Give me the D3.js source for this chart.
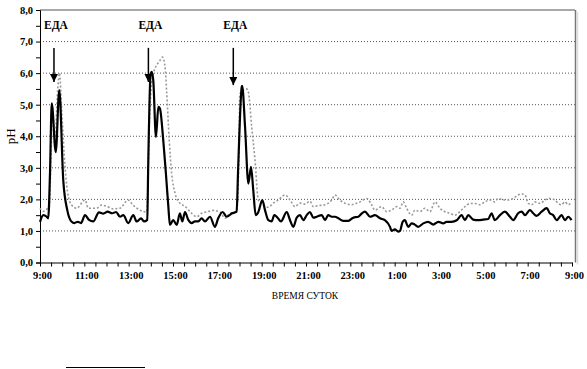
<!DOCTYPE html>
<html>
<head>
<meta charset="utf-8">
<script src="https://cdnjs.cloudflare.com/ajax/libs/d3/7.8.5/d3.min.js"></script>
<style>
    body { margin: 0; background: #fff; }
    svg text { font-family: "Liberation Serif", "Times New Roman", "DejaVu Serif", serif !important; fill: #000; }
</style>
</head>
<body>
<svg id="chartSvg" width="587" height="369"></svg>
<script>
// hours after 9:00, pH
const solidHours = [0.00, 0.15, 0.30, 0.37, 0.45, 0.53, 0.71, 0.87, 1.05, 1.23, 1.43, 1.55, 1.70, 1.85, 2.03, 2.21, 2.40, 2.66, 2.86, 3.05, 3.26, 3.43, 3.61, 3.76, 3.98, 4.21, 4.36, 4.56, 4.69, 4.84, 4.88, 4.99, 5.04, 5.11, 5.23, 5.34, 5.41, 5.56, 5.68, 5.79, 5.86, 6.01, 6.17, 6.31, 6.42, 6.54, 6.69, 6.84, 6.99, 7.14, 7.29, 7.44, 7.67, 7.89, 8.04, 8.24, 8.42, 8.65, 8.87, 8.94, 9.10, 9.12, 9.25, 9.40, 9.52, 9.62, 9.73, 9.85, 10.03, 10.15, 10.30, 10.45, 10.57, 10.72, 10.87, 11.13, 11.28, 11.43, 11.58, 11.73, 11.88, 12.03, 12.18, 12.33, 12.48, 12.71, 12.86, 13.00, 13.16, 13.31, 13.46, 13.68, 13.91, 14.13, 14.36, 14.51, 14.66, 14.89, 15.11, 15.34, 15.56, 15.79, 15.86, 16.01, 16.16, 16.24, 16.36, 16.46, 16.61, 16.77, 16.91, 17.06, 17.29, 17.51, 17.74, 17.97, 18.19, 18.34, 18.57, 18.80, 19.02, 19.17, 19.32, 19.54, 19.77, 20.00, 20.22, 20.37, 20.52, 20.75, 20.97, 21.20, 21.35, 21.57, 21.73, 21.88, 22.10, 22.25, 22.40, 22.63, 22.86, 23.00, 23.15, 23.31, 23.53, 23.68, 23.83, 23.98];
const solidPh = [1.29, 1.50, 1.45, 1.40, 2.80, 5.04, 3.50, 5.46, 2.60, 1.66, 1.29, 1.25, 1.29, 1.25, 1.50, 1.35, 1.30, 1.59, 1.55, 1.61, 1.56, 1.60, 1.45, 1.50, 1.25, 1.50, 1.30, 1.40, 1.30, 1.35, 3.00, 5.98, 6.04, 5.77, 3.98, 4.93, 4.88, 3.88, 2.82, 1.77, 1.19, 1.34, 1.19, 1.56, 1.30, 1.60, 1.35, 1.25, 1.30, 1.30, 1.40, 1.30, 1.45, 1.13, 1.40, 1.60, 1.45, 1.55, 1.61, 3.00, 5.56, 5.60, 4.30, 2.50, 3.03, 2.30, 1.50, 1.60, 1.98, 1.66, 1.34, 1.30, 1.50, 1.42, 1.30, 1.60, 1.34, 1.13, 1.42, 1.50, 1.34, 1.50, 1.60, 1.42, 1.45, 1.50, 1.34, 1.50, 1.45, 1.45, 1.40, 1.32, 1.32, 1.42, 1.45, 1.55, 1.61, 1.45, 1.50, 1.40, 1.34, 1.13, 1.00, 1.05, 0.98, 1.00, 1.29, 1.34, 1.13, 1.24, 1.20, 1.13, 1.24, 1.29, 1.20, 1.29, 1.24, 1.29, 1.29, 1.34, 1.50, 1.34, 1.50, 1.36, 1.34, 1.36, 1.38, 1.56, 1.34, 1.50, 1.61, 1.45, 1.34, 1.56, 1.61, 1.50, 1.66, 1.56, 1.48, 1.61, 1.72, 1.56, 1.50, 1.34, 1.50, 1.34, 1.45, 1.34];

const dottedHours = [0.00, 0.15, 0.32, 0.42, 0.50, 0.56, 0.68, 0.80, 0.88, 0.98, 1.13, 1.28, 1.43, 1.65, 2.03, 2.18, 2.55, 2.78, 3.01, 3.29, 3.61, 3.97, 4.20, 4.51, 4.81, 4.96, 5.11, 5.41, 5.52, 5.64, 5.71, 5.83, 5.94, 6.09, 6.31, 6.54, 6.84, 7.07, 7.29, 7.52, 7.82, 8.12, 8.35, 8.57, 8.80, 8.87, 8.96, 9.02, 9.32, 9.40, 9.55, 9.70, 9.85, 10.00, 10.15, 10.30, 10.52, 10.75, 11.05, 11.28, 11.50, 11.73, 11.95, 12.18, 12.33, 12.55, 12.86, 13.16, 13.31, 13.53, 13.76, 14.06, 14.28, 14.43, 14.74, 14.96, 15.11, 15.41, 15.64, 15.86, 16.09, 16.24, 16.39, 16.54, 16.77, 16.91, 17.14, 17.36, 17.59, 17.82, 18.04, 18.27, 18.49, 18.72, 18.94, 19.17, 19.40, 19.62, 19.85, 20.07, 20.30, 20.52, 20.67, 20.90, 21.13, 21.35, 21.57, 21.73, 21.88, 22.03, 22.18, 22.33, 22.56, 22.78, 23.00, 23.23, 23.38, 23.53, 23.68, 23.83, 23.98];
const dottedPh = [1.72, 1.62, 1.70, 1.75, 3.50, 4.90, 4.00, 5.50, 6.00, 4.80, 3.03, 2.08, 1.82, 1.72, 1.98, 1.72, 1.72, 1.82, 1.78, 1.70, 1.72, 1.98, 1.82, 1.66, 1.60, 4.90, 5.98, 6.40, 6.51, 6.20, 5.46, 3.88, 2.82, 2.20, 1.88, 1.78, 1.56, 1.45, 1.56, 1.60, 1.65, 1.60, 1.40, 1.56, 1.60, 1.62, 3.00, 5.35, 5.50, 5.40, 4.30, 3.24, 1.98, 1.90, 1.77, 1.75, 1.88, 1.98, 2.14, 1.98, 1.77, 1.88, 1.85, 1.94, 1.77, 1.80, 1.83, 1.98, 2.14, 1.98, 1.88, 1.83, 1.88, 1.92, 2.03, 1.83, 1.66, 1.77, 1.61, 1.66, 1.77, 1.72, 1.92, 1.72, 1.50, 1.66, 1.61, 1.72, 1.61, 1.92, 1.72, 1.61, 1.56, 1.50, 1.61, 1.77, 1.87, 1.87, 1.83, 1.92, 1.98, 1.92, 2.03, 1.98, 1.98, 2.03, 2.14, 2.17, 2.14, 1.87, 1.83, 1.92, 1.87, 1.98, 2.03, 1.98, 1.87, 1.83, 1.92, 1.83, 1.92];

const mealHours = [0.63, 4.89, 8.72];
const mealLabel = "ЕДА";
const yTickValues = [0, 1, 2, 3, 4, 5, 6, 7, 8];
const xTickLabels = ["9:00", "11:00", "13:00", "15:00", "17:00", "19:00", "21:00", "23:00", "1:00", "3:00", "5:00", "7:00", "9:00"];

const svg = d3.select("#chartSvg");
const plotLeft = 40, plotRight = 572, plotTop = 10, plotBottom = 262.5;

const x = d3.scaleLinear().domain([0, 24]).range([plotLeft, plotRight]);
const y = d3.scaleLinear().domain([0, 8]).range([plotBottom, plotTop]);

// gridlines
svg.append("g")
    .selectAll("line")
    .data(yTickValues.filter(d => d > 0 && d < 8))
    .join("line")
    .attr("x1", plotLeft)
    .attr("x2", 575)
    .attr("y1", d => y(d))
    .attr("y2", d => y(d))
    .attr("stroke", "#555")
    .attr("stroke-width", 1)
    .attr("stroke-dasharray", "1,2");

// plot frame (top and right)
svg.append("line")
    .attr("x1", plotLeft).attr("x2", 575)
    .attr("y1", plotTop).attr("y2", plotTop)
    .attr("stroke", "#555").attr("stroke-width", 1.2);
svg.append("line")
    .attr("x1", 575.5).attr("x2", 575.5)
    .attr("y1", plotTop).attr("y2", plotBottom)
    .attr("stroke", "#777").attr("stroke-width", 1.5);
svg.append("line")
    .attr("x1", 577.5).attr("x2", 577.5)
    .attr("y1", plotTop + 2).attr("y2", plotBottom + 2)
    .attr("stroke", "#ddd").attr("stroke-width", 1.5);

// y axis
const yAxis = d3.axisLeft(y)
    .tickValues(d3.range(0, 8.01, 0.5))
    .tickSize(4)
    .tickFormat(d => Number.isInteger(d) ? d.toFixed(1).replace(".", ",") : "");
svg.append("g")
    .attr("transform", `translate(${plotLeft},0)`)
    .attr("font-family", null)
    .call(yAxis)
    .call(g => g.select(".domain").attr("stroke", "#000"))
    .call(g => g.selectAll("text")
        .attr("x", -7)
        .style("font-size", "10.5px")
        .style("font-weight", "bold"));

// x axis
const xAxis = d3.axisBottom(x)
    .tickValues(d3.range(0, 24.01, 0.5))
    .tickSize(4)
    .tickSizeOuter(0)
    .tickFormat(d => d % 2 === 0 ? xTickLabels[d / 2] : "");
svg.append("g")
    .attr("transform", `translate(0,${plotBottom})`)
    .call(xAxis)
    .call(g => g.select(".domain").attr("stroke", "#000"))
    .call(g => g.selectAll("text")
        .attr("y", 9)
        .attr("dx", 2)
        .style("font-size", "10.5px")
        .style("font-weight", "bold"));

// lines
const makeLine = d3.line()
    .x(d => x(d[0]))
    .y(d => y(d[1]))
    .curve(d3.curveMonotoneX);

const dottedPoints = dottedHours.map((h, i) => [h, dottedPh[i]]);
const solidPoints = solidHours.map((h, i) => [h, solidPh[i]]);

svg.append("path")
    .datum(dottedPoints)
    .attr("d", makeLine)
    .attr("fill", "none")
    .attr("stroke", "#999")
    .attr("stroke-width", 1.6)
    .attr("stroke-dasharray", "2,2");

svg.append("path")
    .datum(solidPoints)
    .attr("d", makeLine)
    .attr("fill", "none")
    .attr("stroke", "#000")
    .attr("stroke-width", 2.2)
    .attr("stroke-linejoin", "round");

// meal arrows
const arrowTips = [5.72, 5.72, 5.62];
svg.append("defs").append("marker")
    .attr("id", "arrowHead")
    .attr("viewBox", "0 0 10 10")
    .attr("refX", 10)
    .attr("refY", 5)
    .attr("markerWidth", 8)
    .attr("markerHeight", 8)
    .attr("markerUnits", "userSpaceOnUse")
    .attr("orient", "auto")
    .append("path")
    .attr("d", "M0,0 L10,5 L0,10 Z")
    .attr("fill", "#000");

mealHours.forEach(function(h, i) {
    svg.append("line")
        .attr("x1", x(h)).attr("x2", x(h))
        .attr("y1", y(6.8)).attr("y2", y(arrowTips[i]))
        .attr("stroke", "#000")
        .attr("stroke-width", 1.5)
        .attr("marker-end", "url(#arrowHead)");
    svg.append("text")
        .attr("x", x(h) + 2)
        .attr("y", 29)
        .attr("text-anchor", "middle")
        .style("font-size", "11.5px")
        .style("font-weight", "bold")
        .text(mealLabel);
});

// axis titles
svg.append("text")
    .attr("transform", `translate(15,${y(4)}) rotate(-90)`)
    .attr("text-anchor", "middle")
    .style("font-size", "13px")
    .text("pH");

svg.append("text")
    .attr("x", 305)
    .attr("y", 299)
    .attr("text-anchor", "middle")
    .style("font-size", "9.5px")
    .text("ВРЕМЯ СУТОК");

// footnote rule
svg.append("line")
    .attr("x1", 66).attr("x2", 145)
    .attr("y1", 367.5).attr("y2", 367.5)
    .attr("stroke", "#000")
    .attr("stroke-width", 1);
</script>
</body>
</html>
